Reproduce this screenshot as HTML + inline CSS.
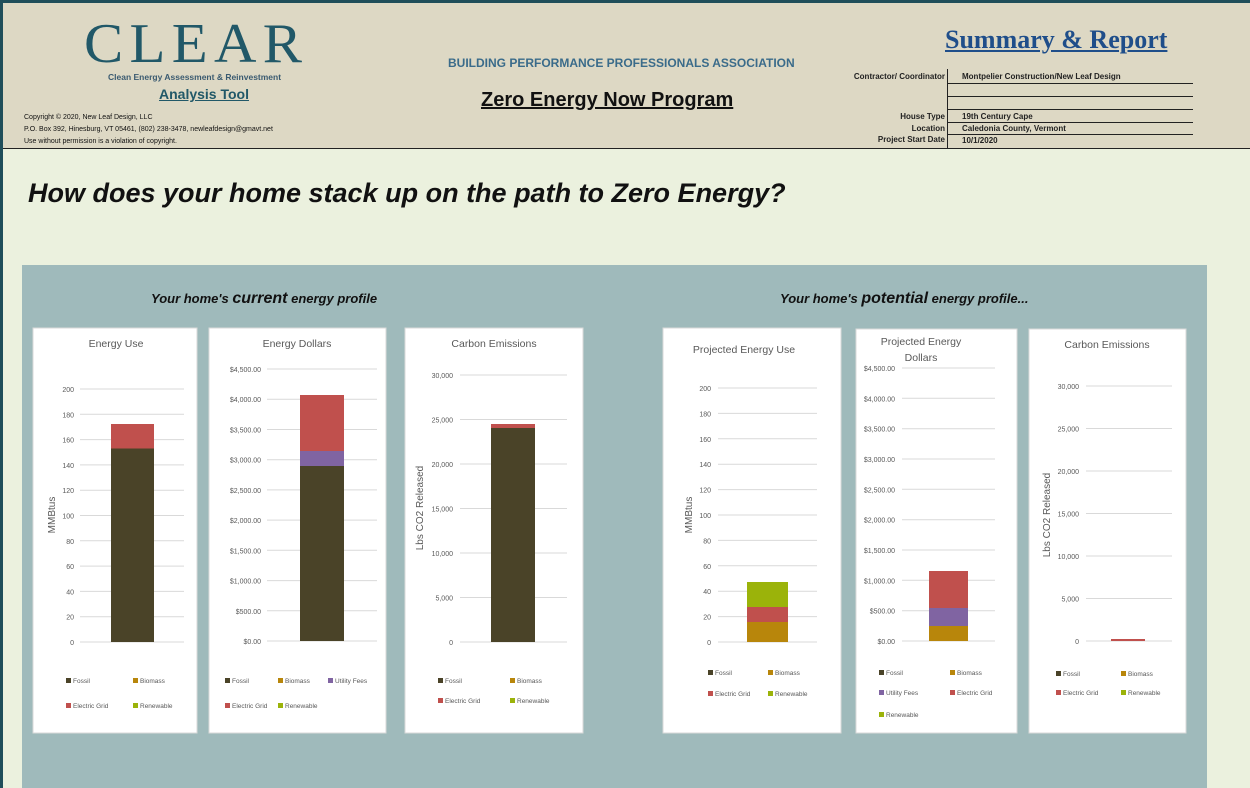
<!DOCTYPE html>
<html><head><meta charset="utf-8"><style>
body{margin:0;width:1250px;height:788px;overflow:hidden;background:#ebf1de;font-family:"Liberation Sans",sans-serif;position:relative}
.a{position:absolute;white-space:nowrap}
</style></head><body>
<div class="a" style="left:0;top:0;width:1250px;height:148px;background:#ddd8c4;border-bottom:1px solid #222"></div>
<div class="a" style="left:0;top:0;width:1250px;height:3px;background:#1f4e5a"></div>
<div class="a" style="left:0;top:0;width:3px;height:788px;background:#1f4e5a"></div>
<div class="a" style="left:84px;top:12px;font-family:'Liberation Serif',serif;font-size:56px;color:#215868;letter-spacing:6px;line-height:64px;transform:scaleX(1.05);transform-origin:left">CLEAR</div>
<div class="a" style="left:108px;top:72px;font-size:8.5px;font-weight:bold;color:#3a5a70">Clean Energy Assessment &amp; Reinvestment</div>
<div class="a" style="left:159px;top:86px;font-size:14px;color:#215868;text-decoration:underline;font-weight:bold">Analysis Tool</div>
<div class="a" style="left:24px;top:112px;font-size:7px;color:#111;line-height:12px">Copyright © 2020, New Leaf Design, LLC<br>P.O. Box 392, Hinesburg, VT  05461, (802) 238-3478, newleafdesign@gmavt.net<br>Use without permission is a violation of copyright.</div>
<div class="a" style="left:448px;top:56px;font-size:12px;font-weight:bold;color:#3a6b8a">BUILDING PERFORMANCE PROFESSIONALS ASSOCIATION</div>
<div class="a" style="left:481px;top:89px;font-size:20px;font-weight:bold;color:#111;text-decoration:underline">Zero Energy Now Program</div>
<div class="a" style="left:945px;top:25px;font-family:'Liberation Serif',serif;font-size:26px;font-weight:bold;color:#1f4e8a;text-decoration:underline">Summary &amp; Report</div>
<div class="a" style="left:947px;top:69px;width:1px;height:79px;background:#222"></div>
<div class="a" style="left:947px;top:83px;width:246px;height:1px;background:#222"></div>
<div class="a" style="left:947px;top:96px;width:246px;height:1px;background:#222"></div>
<div class="a" style="left:947px;top:109px;width:246px;height:1px;background:#222"></div>
<div class="a" style="left:947px;top:122px;width:246px;height:1px;background:#222"></div>
<div class="a" style="left:947px;top:134px;width:246px;height:1px;background:#222"></div>
<div class="a" style="right:305px;top:71px;font-size:8px;font-weight:bold;color:#222;text-align:right;line-height:11px">Contractor/ Coordinator</div>
<div class="a" style="right:305px;top:111px;font-size:8px;font-weight:bold;color:#222;text-align:right;line-height:11.5px">House Type<br>Location<br>Project Start Date</div>
<div class="a" style="left:962px;top:72px;font-size:8px;font-weight:bold;color:#222">Montpelier Construction/New Leaf Design</div>
<div class="a" style="left:962px;top:111px;font-size:8px;font-weight:bold;color:#222;line-height:12px">19th Century Cape<br>Caledonia County, Vermont<br>10/1/2020</div>
<div class="a" style="left:28px;top:178px;font-size:27px;font-weight:bold;font-style:italic;color:#111">How does your home stack up on the path to Zero Energy?</div>
<div class="a" style="left:22px;top:265px;width:1185px;height:523px;background:#9fbabb"></div>
<div class="a" style="left:151px;top:290px;font-size:13px;font-weight:bold;font-style:italic;color:#111">Your home's <span style="font-size:16px">current</span>  energy profile</div>
<div class="a" style="left:780px;top:290px;font-size:13px;font-weight:bold;font-style:italic;color:#111">Your home's <span style="font-size:16px">potential</span>  energy profile...</div>
<svg class="a" style="left:0;top:0" width="1250" height="788" font-family="Liberation Sans, sans-serif">
<g fill="#fff" stroke="#d9d9d9"><rect x="33" y="328" width="164" height="405"/><rect x="209" y="328" width="177" height="405"/><rect x="405" y="328" width="178" height="405"/><rect x="663" y="328" width="178" height="405"/><rect x="856" y="329" width="161" height="404"/><rect x="1029" y="329" width="157" height="404"/></g>
<g font-size="10.5" fill="#595959" text-anchor="middle"><text x="116" y="347">Energy Use</text><text x="297" y="347">Energy Dollars</text><text x="494" y="347">Carbon Emissions</text><text x="744" y="353">Projected Energy Use</text><text x="921" y="345">Projected Energy</text><text x="921" y="361">Dollars</text><text x="1107" y="348">Carbon Emissions</text></g>
<g stroke="#d9d9d9" stroke-width="1">
<path d="M80 642H184M80 616.7H184M80 591.4H184M80 566.1H184M80 540.8H184M80 515.5H184M80 490.2H184M80 464.9H184M80 439.6H184M80 414.3H184M80 389H184"/>
<path d="M267 641H377M267 610.8H377M267 580.6H377M267 550.3H377M267 520.1H377M267 489.9H377M267 459.7H377M267 429.5H377M267 399.2H377M267 369H377"/>
<path d="M460 642H567M460 597.5H567M460 553H567M460 508.5H567M460 464H567M460 419.5H567M460 375H567"/>
<path d="M718 642H817M718 616.6H817M718 591.2H817M718 565.8H817M718 540.4H817M718 515H817M718 489.6H817M718 464.2H817M718 438.8H817M718 413.4H817M718 388H817"/>
<path d="M902 641H995M902 610.7H995M902 580.3H995M902 550H995M902 519.7H995M902 489.3H995M902 459H995M902 428.7H995M902 398.3H995M902 368H995"/>
<path d="M1086 641H1172M1086 598.5H1172M1086 556H1172M1086 513.5H1172M1086 471H1172M1086 428.5H1172M1086 386H1172"/>
</g>
<g font-size="7" fill="#595959" text-anchor="end">
<text x="74" y="645">0</text><text x="74" y="619.7">20</text><text x="74" y="594.4">40</text><text x="74" y="569.1">60</text><text x="74" y="543.8">80</text><text x="74" y="518.5">100</text><text x="74" y="493.2">120</text><text x="74" y="467.9">140</text><text x="74" y="442.6">160</text><text x="74" y="417.3">180</text><text x="74" y="392">200</text>
<text x="261" y="644">$0.00</text><text x="261" y="613.8">$500.00</text><text x="261" y="583.6">$1,000.00</text><text x="261" y="553.3">$1,500.00</text><text x="261" y="523.1">$2,000.00</text><text x="261" y="492.9">$2,500.00</text><text x="261" y="462.7">$3,000.00</text><text x="261" y="432.5">$3,500.00</text><text x="261" y="402.2">$4,000.00</text><text x="261" y="372">$4,500.00</text>
<text x="453" y="645">0</text><text x="453" y="600.5">5,000</text><text x="453" y="556">10,000</text><text x="453" y="511.5">15,000</text><text x="453" y="467">20,000</text><text x="453" y="422.5">25,000</text><text x="453" y="378">30,000</text>
<text x="711" y="645">0</text><text x="711" y="619.6">20</text><text x="711" y="594.2">40</text><text x="711" y="568.8">60</text><text x="711" y="543.4">80</text><text x="711" y="518">100</text><text x="711" y="492.6">120</text><text x="711" y="467.2">140</text><text x="711" y="441.8">160</text><text x="711" y="416.4">180</text><text x="711" y="391">200</text>
<text x="895" y="644">$0.00</text><text x="895" y="613.7">$500.00</text><text x="895" y="583.3">$1,000.00</text><text x="895" y="553">$1,500.00</text><text x="895" y="522.7">$2,000.00</text><text x="895" y="492.3">$2,500.00</text><text x="895" y="462">$3,000.00</text><text x="895" y="431.7">$3,500.00</text><text x="895" y="401.3">$4,000.00</text><text x="895" y="371">$4,500.00</text>
<text x="1079" y="644">0</text><text x="1079" y="601.5">5,000</text><text x="1079" y="559">10,000</text><text x="1079" y="516.5">15,000</text><text x="1079" y="474">20,000</text><text x="1079" y="431.5">25,000</text><text x="1079" y="389">30,000</text>
</g>
<g font-size="10" fill="#595959" text-anchor="middle">
<text transform="translate(55,515) rotate(-90)">MMBtus</text>
<text transform="translate(423,508) rotate(-90)">Lbs CO2 Released</text>
<text transform="translate(692,515) rotate(-90)">MMBtus</text>
<text transform="translate(1050,515) rotate(-90)">Lbs CO2 Released</text>
</g>
<rect x="111" y="448.5" width="43" height="193.5" fill="#4a4328"/><rect x="111" y="424" width="43" height="24.5" fill="#c0504d"/>
<rect x="300" y="466" width="44" height="175" fill="#4a4328"/><rect x="300" y="451" width="44" height="15" fill="#8064a2"/><rect x="300" y="395" width="44" height="56" fill="#c0504d"/>
<rect x="491" y="428" width="44" height="214" fill="#4a4328"/><rect x="491" y="424" width="44" height="4" fill="#c0504d"/>
<rect x="747" y="622" width="41" height="20" fill="#b8860b"/><rect x="747" y="607" width="41" height="15" fill="#c0504d"/><rect x="747" y="582" width="41" height="25" fill="#9bb30a"/>
<rect x="929" y="626" width="39" height="15" fill="#b8860b"/><rect x="929" y="608" width="39" height="18" fill="#8064a2"/><rect x="929" y="571" width="39" height="37" fill="#c0504d"/>
<rect x="1111" y="639" width="34" height="2" fill="#c0504d"/>
<g font-size="6.5" fill="#595959">
<rect x="66" y="678" width="5" height="5" fill="#4a4328"/><text x="73" y="683">Fossil</text>
<rect x="133" y="678" width="5" height="5" fill="#b8860b"/><text x="140" y="683">Biomass</text>
<rect x="66" y="703" width="5" height="5" fill="#c0504d"/><text x="73" y="708">Electric Grid</text>
<rect x="133" y="703" width="5" height="5" fill="#9bb30a"/><text x="140" y="708">Renewable</text>
<rect x="225" y="678" width="5" height="5" fill="#4a4328"/><text x="232" y="683">Fossil</text>
<rect x="278" y="678" width="5" height="5" fill="#b8860b"/><text x="285" y="683">Biomass</text>
<rect x="328" y="678" width="5" height="5" fill="#8064a2"/><text x="335" y="683">Utility Fees</text>
<rect x="225" y="703" width="5" height="5" fill="#c0504d"/><text x="232" y="708">Electric Grid</text>
<rect x="278" y="703" width="5" height="5" fill="#9bb30a"/><text x="285" y="708">Renewable</text>
<rect x="438" y="678" width="5" height="5" fill="#4a4328"/><text x="445" y="683">Fossil</text>
<rect x="510" y="678" width="5" height="5" fill="#b8860b"/><text x="517" y="683">Biomass</text>
<rect x="438" y="698" width="5" height="5" fill="#c0504d"/><text x="445" y="703">Electric Grid</text>
<rect x="510" y="698" width="5" height="5" fill="#9bb30a"/><text x="517" y="703">Renewable</text>
<rect x="708" y="670" width="5" height="5" fill="#4a4328"/><text x="715" y="675">Fossil</text>
<rect x="768" y="670" width="5" height="5" fill="#b8860b"/><text x="775" y="675">Biomass</text>
<rect x="708" y="691" width="5" height="5" fill="#c0504d"/><text x="715" y="696">Electric Grid</text>
<rect x="768" y="691" width="5" height="5" fill="#9bb30a"/><text x="775" y="696">Renewable</text>
<rect x="879" y="670" width="5" height="5" fill="#4a4328"/><text x="886" y="675">Fossil</text>
<rect x="950" y="670" width="5" height="5" fill="#b8860b"/><text x="957" y="675">Biomass</text>
<rect x="879" y="690" width="5" height="5" fill="#8064a2"/><text x="886" y="695">Utility Fees</text>
<rect x="950" y="690" width="5" height="5" fill="#c0504d"/><text x="957" y="695">Electric Grid</text>
<rect x="879" y="712" width="5" height="5" fill="#9bb30a"/><text x="886" y="717">Renewable</text>
<rect x="1056" y="671" width="5" height="5" fill="#4a4328"/><text x="1063" y="676">Fossil</text>
<rect x="1121" y="671" width="5" height="5" fill="#b8860b"/><text x="1128" y="676">Biomass</text>
<rect x="1056" y="690" width="5" height="5" fill="#c0504d"/><text x="1063" y="695">Electric Grid</text>
<rect x="1121" y="690" width="5" height="5" fill="#9bb30a"/><text x="1128" y="695">Renewable</text>
</g>
</svg>
</body></html>
